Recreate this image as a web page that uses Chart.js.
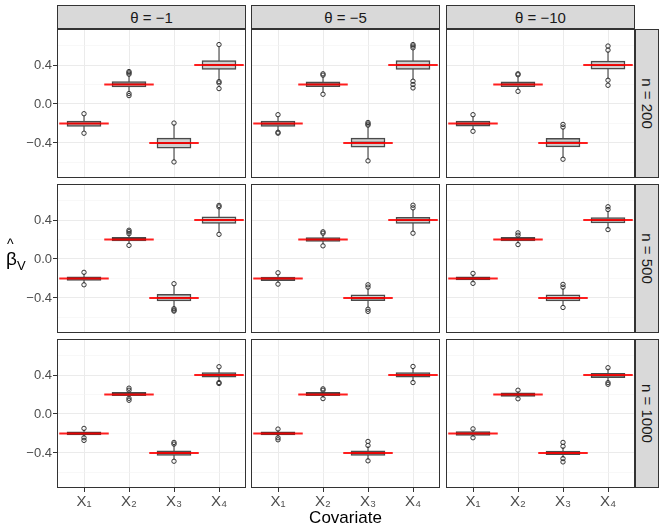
<!DOCTYPE html>
<html lang="en">
<head>
<meta charset="UTF-8">
<title>Estimated coefficients by covariate</title>
<script src="https://cdn.jsdelivr.net/npm/chart.js"></script>
<style>
  body { margin: 0; background: #fff; font-family: "Liberation Sans", Arial, sans-serif; }
  #wrap { position: relative; width: 664px; height: 532px; }
  canvas { position: absolute; }
  .strip { position: absolute; background: #d9d9d9; border: 1px solid #333; box-sizing: border-box;
           color: #1a1a1a; font-size: 15px; display: flex; align-items: center; justify-content: center; }
  .strip.side span { transform: rotate(90deg); white-space: nowrap; display: inline-block; }
  .title { position: absolute; color: #000; white-space: nowrap; }
  .hat { position: relative; display: inline-block; }
  .hat i { position: absolute; left: 1px; top: -11px; font-style: normal; font-size: 14px; line-height: 14px; }
</style>
</head>
<body>
<div id="wrap"></div>
<script>
// facet labels, categories and tick values
const covariates = ['X₁', 'X₂', 'X₃', 'X₄'];
const trueBeta = [-0.2, 0.2, -0.4, 0.4];
const thetaLabels = ['θ = −1', 'θ = −5', 'θ = −10'];
const nLabels = ['n = 200', 'n = 500', 'n = 1000'];
const yTicks = [-0.6, -0.4, -0.2, 0, 0.2, 0.4, 0.6];

// box statistics, indexed [n row][theta column][covariate]
const q1 = [
  [[-0.23, 0.175, -0.454, 0.354], [-0.23, 0.179, -0.443, 0.354], [-0.228, 0.179, -0.44, 0.357]],
  [[-0.22, 0.186, -0.43, 0.366], [-0.222, 0.18, -0.429, 0.364], [-0.216, 0.186, -0.43, 0.371]],
  [[-0.216, 0.189, -0.426, 0.378], [-0.216, 0.189, -0.426, 0.378], [-0.22, 0.18, -0.417, 0.373]]
];
const medians = [
  [[-0.201, 0.202, -0.402, 0.401], [-0.202, 0.203, -0.397, 0.399], [-0.202, 0.203, -0.397, 0.398]],
  [[-0.201, 0.204, -0.398, 0.401], [-0.203, 0.2, -0.399, 0.397], [-0.199, 0.204, -0.399, 0.398]],
  [[-0.199, 0.206, -0.402, 0.402], [-0.199, 0.205, -0.402, 0.402], [-0.2, 0.199, -0.399, 0.395]]
];
const q3 = [
  [[-0.175, 0.23, -0.35, 0.447], [-0.175, 0.227, -0.35, 0.445], [-0.176, 0.227, -0.353, 0.44]],
  [[-0.182, 0.223, -0.364, 0.434], [-0.185, 0.22, -0.368, 0.429], [-0.182, 0.223, -0.368, 0.426]],
  [[-0.182, 0.223, -0.378, 0.426], [-0.182, 0.222, -0.378, 0.426], [-0.18, 0.217, -0.38, 0.417]]
];
const whiskerLow = [
  [[-0.28, 0.12, -0.58, 0.25], [-0.28, 0.115, -0.57, 0.25], [-0.265, 0.145, -0.555, 0.255]],
  [[-0.25, 0.155, -0.5, 0.27], [-0.245, 0.15, -0.5, 0.28], [-0.24, 0.16, -0.48, 0.31]],
  [[-0.235, 0.165, -0.47, 0.33], [-0.235, 0.165, -0.47, 0.335], [-0.235, 0.165, -0.45, 0.33]]
];
const whiskerHigh = [
  [[-0.12, 0.29, -0.21, 0.59], [-0.125, 0.285, -0.235, 0.56], [-0.125, 0.285, -0.25, 0.54]],
  [[-0.15, 0.255, -0.27, 0.53], [-0.155, 0.25, -0.3, 0.51], [-0.16, 0.235, -0.3, 0.495]],
  [[-0.16, 0.24, -0.315, 0.47], [-0.163, 0.238, -0.33, 0.47], [-0.16, 0.235, -0.34, 0.465]]
];
const outliers = [
  [
    [[-0.10, -0.30], [0.333, 0.32, 0.306, 0.107, 0.086], [-0.196, -0.595], [0.61, 0.23, 0.216, 0.158]],
    [[-0.11, -0.29, -0.30], [0.31, 0.296, 0.10], [-0.19, -0.205, -0.217, -0.584], [0.61, 0.595, 0.577, 0.234, 0.20, 0.165]],
    [[-0.11, -0.28], [0.31, 0.30, 0.13], [-0.21, -0.237, -0.567], [0.595, 0.553, 0.244, 0.192]]
  ],
  [
    [[-0.137, -0.265], [0.295, 0.28, 0.26, 0.14], [-0.254, -0.51, -0.525, -0.535], [0.55, 0.535, 0.253]],
    [[-0.142, -0.258], [0.279, 0.265, 0.135], [-0.265, -0.289, -0.516, -0.538], [0.552, 0.525, 0.265]],
    [[-0.148, -0.25], [0.268, 0.244, 0.148], [-0.261, -0.289, -0.498], [0.536, 0.508, 0.302]]
  ],
  [
    [[-0.148, -0.244, -0.271], [0.265, 0.244, 0.161, 0.141], [-0.292, -0.309, -0.485], [0.485, 0.323, 0.313]],
    [[-0.155, -0.244, -0.265], [0.258, 0.244, 0.158], [-0.282, -0.323, -0.481], [0.488, 0.323]],
    [[-0.153, -0.244], [0.244, 0.156], [-0.292, -0.332, -0.458, -0.492], [0.475, 0.322, 0.305]]
  ]
];

// layout of the facet grid (pixels)
const colLeft = [57, 251, 446];
const rowTop = [29, 184, 339];
const panelW = 189, panelH = 149;
const yAxisW = 57, xAxisH = 22;

const wrap = document.getElementById('wrap');

const panelBorder = {
  id: 'panelBorder',
  afterDraw(chart) {
    const { ctx, chartArea: a } = chart;
    ctx.save();
    ctx.strokeStyle = '#333';
    ctx.lineWidth = 1;
    ctx.strokeRect(a.left + 0.5, a.top + 0.5, a.right - a.left - 1, a.bottom - a.top - 1);
    ctx.restore();
  }
};

function fmt(v) {
  return v.toFixed(1).replace('-', '−');
}

// keep the plot area exactly where the facet grid wants it
function fixSize(s, size) {
  if (s.isHorizontal()) s.height = size; else s.width = size;
  s.paddingTop = s.paddingBottom = s.paddingLeft = s.paddingRight = 0;
}

function makePanel(r, c) {
  const showY = c === 0, showX = r === 2;
  const cv = document.createElement('canvas');
  const w = panelW + (showY ? yAxisW : 0);
  const h = panelH + (showX ? xAxisH : 0);
  cv.width = w; cv.height = h;
  cv.style.left = (showY ? 0 : colLeft[c]) + 'px';
  cv.style.top = rowTop[r] + 'px';
  cv.style.width = w + 'px'; cv.style.height = h + 'px';
  wrap.appendChild(cv);

  const whiskers = [], boxes = [], meds = [], pts = [], truth = [];
  covariates.forEach((_, i) => {
    const x = i + 1;
    whiskers.push({ x, y: whiskerLow[r][c][i] }, { x, y: whiskerHigh[r][c][i] }, { x, y: null });
    boxes.push({ x, y: [q1[r][c][i], q3[r][c][i]] });
    meds.push({ x: x - 0.375, y: medians[r][c][i] }, { x: x + 0.375, y: medians[r][c][i] }, { x, y: null });
    outliers[r][c][i].forEach(v => pts.push({ x, y: v }));
    truth.push({ x: x - 0.55, y: trueBeta[i] }, { x: x + 0.55, y: trueBeta[i] }, { x, y: null });
  });

  new Chart(cv, {
    type: 'bar',
    data: {
      datasets: [
        { type: 'line', data: whiskers, borderColor: '#333', borderWidth: 1, pointRadius: 0, order: 5 },
        { type: 'bar', data: boxes, backgroundColor: '#d0d0d0', borderColor: '#4a4a4a', borderWidth: 1.5,
          borderSkipped: false, barThickness: 34, order: 4 },
        { type: 'line', data: meds, borderColor: '#222', borderWidth: 1.6, pointRadius: 0, order: 3 },
        { type: 'scatter', data: pts, pointRadius: 2.2, pointBackgroundColor: 'rgba(0,0,0,0)',
          pointBorderColor: '#333', pointBorderWidth: 1, order: 2 },
        { type: 'line', data: truth, borderColor: 'rgba(255,0,0,0.88)', borderWidth: 2, pointRadius: 0, order: 1 }
      ]
    },
    options: {
      responsive: false,
      animation: false,
      events: [],
      layout: { padding: 0, autoPadding: false },
      plugins: { legend: { display: false }, tooltip: { enabled: false } },
      scales: {
        x: {
          type: 'linear', min: 0.4, max: 4.6, offset: false,
          afterBuildTicks: s => { s.ticks = covariates.map((_, i) => ({ value: i + 1 })); },
          afterFit: s => fixSize(s, showX ? xAxisH : 0),
          border: { display: false },
          grid: { offset: false, color: '#ebebeb', lineWidth: 1, drawTicks: showX, tickLength: 4, tickColor: '#333' },
          ticks: {
            display: showX, padding: 1, maxRotation: 0, autoSkip: false,
            color: '#4d4d4d', font: { family: 'Liberation Sans', size: 15 },
            callback: v => covariates[Math.round(v) - 1] || ''
          }
        },
        y: {
          type: 'linear', min: -0.76, max: 0.77,
          afterBuildTicks: s => { s.ticks = yTicks.map(v => ({ value: v })); },
          afterFit: s => fixSize(s, showY ? yAxisW : 0),
          border: { display: false },
          grid: {
            color: ctx => ctx.index % 2 ? '#ebebeb' : '#f4f4f4',
            lineWidth: ctx => ctx.index % 2 ? 1 : 0.6,
            drawTicks: showY, tickLength: 4,
            tickColor: ctx => ctx.index % 2 ? '#333' : 'rgba(0,0,0,0)'
          },
          ticks: {
            display: showY, padding: 1, autoSkip: false,
            color: '#4d4d4d', font: { family: 'Liberation Sans', size: 13 },
            callback: (v, i) => i % 2 ? fmt(v) : ''
          }
        }
      }
    },
    plugins: [panelBorder]
  });
}

for (let r = 0; r < 3; r++) for (let c = 0; c < 3; c++) makePanel(r, c);

// facet strips
thetaLabels.forEach((t, c) => {
  const d = document.createElement('div');
  d.className = 'strip';
  d.style.cssText = `left:${colLeft[c]}px;top:5px;width:${panelW}px;height:24px;`;
  d.textContent = t;
  wrap.appendChild(d);
});
nLabels.forEach((t, r) => {
  const d = document.createElement('div');
  d.className = 'strip side';
  d.style.cssText = `left:635px;top:${rowTop[r]}px;width:24px;height:${panelH}px;`;
  const s = document.createElement('span');
  s.textContent = t;
  d.appendChild(s);
  wrap.appendChild(d);
});

// axis titles
const xt = document.createElement('div');
xt.className = 'title';
xt.style.cssText = 'left:0;width:' + (colLeft[0] * 2 + 3 * panelW + 10) + 'px;top:508px;text-align:center;font-size:17px;';
xt.textContent = 'Covariate';
wrap.appendChild(xt);

const yt = document.createElement('div');
yt.className = 'title';
yt.style.cssText = 'left:6px;top:248px;font-size:19px;';
yt.innerHTML = '<span class="hat">β<i>^</i></span><sub style="font-size:13px">V</sub>';
wrap.appendChild(yt);
</script>
</body>
</html>
